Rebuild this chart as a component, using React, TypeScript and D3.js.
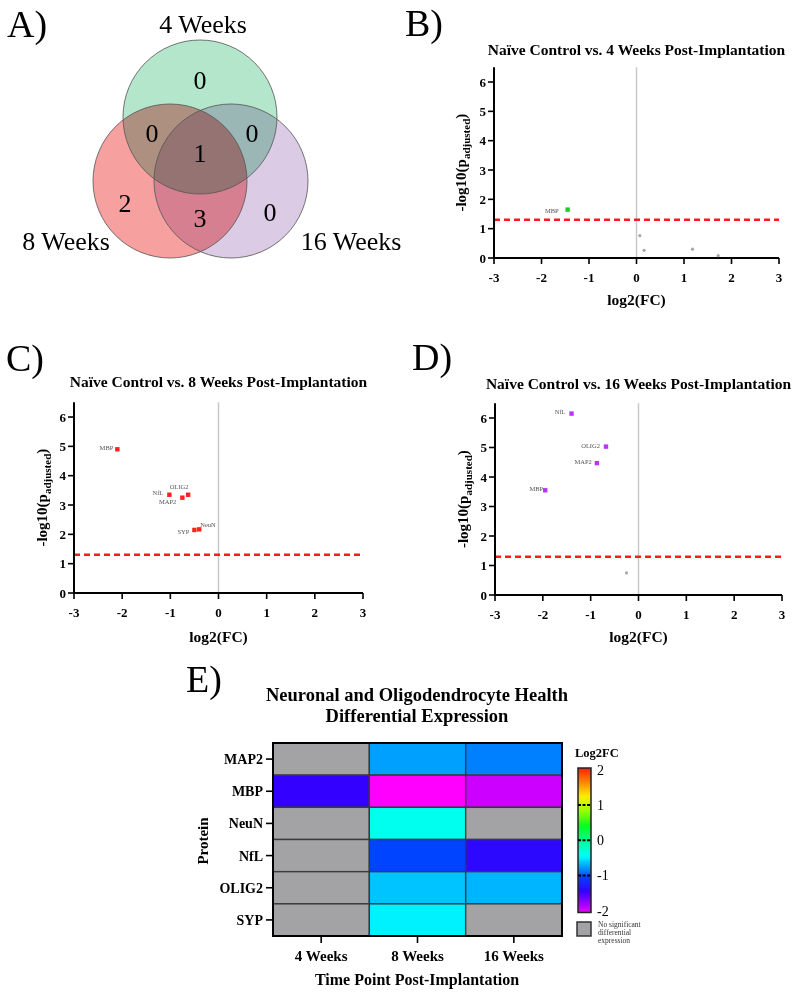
import React from "react";
import * as d3 from "d3";

// ---------------- DATA ----------------
const vennSetLabels = ["4 Weeks", "8 Weeks", "16 Weeks"];
// region counts: only4, only8, only16, 4&8, 4&16, 8&16, all
const vennRegionKeys = ["only4", "only8", "only16", "w4w8", "w4w16", "w8w16", "all"];
const vennRegionCounts = [0, 2, 0, 0, 0, 3, 1];

const fcTicks = [-3, -2, -1, 0, 1, 2, 3];
const pTicks = [0, 1, 2, 3, 4, 5, 6];
const sigThreshold = 1.3;

const wk4Names = ["MBP", "", "", "", ""];
const wk4FC = [-1.45, 0.07, 0.16, 1.18, 1.72];
const wk4P = [1.65, 0.76, 0.26, 0.3, 0.08];

const wk8Names = ["MBP", "NfL", "MAP2", "OLIG2", "SYP", "NeuN"];
const wk8FC = [-2.1, -1.02, -0.75, -0.63, -0.5, -0.4];
const wk8P = [4.9, 3.35, 3.25, 3.35, 2.15, 2.17];

const wk16Names = ["NfL", "OLIG2", "MAP2", "MBP", ""];
const wk16FC = [-1.4, -0.68, -0.87, -1.95, -0.25];
const wk16P = [6.15, 5.03, 4.47, 3.55, 0.75];

const heatProteins = ["MAP2", "MBP", "NeuN", "NfL", "OLIG2", "SYP"];
const heatTimes = ["4 Weeks", "8 Weeks", "16 Weeks"];
const heat4 = [null, -1.45, null, null, null, null];
const heat8 = [-0.75, -2.1, -0.4, -1.02, -0.63, -0.5];
const heat16 = [-0.87, -1.95, null, -1.4, -0.68, null];
const colorbarTicks = [2, 1, 0, -1, -2];
const colorStops = [-2.1, -1.95, -1.45, -1.02, -0.87, -0.75, -0.63, -0.5, -0.4, 0, 0.4, 0.8, 1.25, 1.6, 2.05];
const colorStopColors = ["#ff00ff", "#cc00ff", "#3300ff", "#0044ff", "#0080ff", "#00a0ff", "#00c4ff", "#00f2ff", "#00ffee", "#00ff90", "#00ff20", "#90ff00", "#ffee00", "#ff9000", "#ff2000"];

// ---------------- STYLE ----------------
const SERIF = "'Liberation Serif', 'Times New Roman', serif";
const colorScale = d3.scaleLinear<string>().domain(colorStops).range(colorStopColors).interpolate(d3.interpolateRgb).clamp(true);

type Pt = { name: string; fc: number; p: number };
const zip = (n: string[], f: number[], p: number[]): Pt[] => n.map((name, i) => ({ name, fc: f[i], p: p[i] }));

type LabelPos = { dx: number; dy: number; anchor: string };

function Volcano(props: {
  x0: number; x1: number; y0: number; yTop: number; title: string; titleY: number;
  letter: string; letterX: number; letterY: number; data: Pt[]; color: string;
  labelPos: Record<string, LabelPos>; yLabelX: number; xLabelY: number;
}) {
  const { x0, x1, y0, yTop, data, color } = props;
  const x = d3.scaleLinear().domain([-3, 3]).range([x0, x1]);
  const y = d3.scaleLinear().domain([0, 6.5]).range([y0, yTop]);
  const cx = x(0);
  const mid = (y(0) + y(6.5)) / 2;
  return (
    <g fontFamily={SERIF}>
      <text x={props.letterX} y={props.letterY} fontSize={38}>{props.letter}</text>
      <text x={(x0 + x1) / 2} y={props.titleY} fontSize={15.5} fontWeight="bold" textAnchor="middle">{props.title}</text>
      <line x1={cx} x2={cx} y1={y(0)} y2={y(6.5)} stroke="#c8c8c8" strokeWidth={1.5} />
      <line x1={x(-3)} x2={x(3)} y1={y(sigThreshold)} y2={y(sigThreshold)} stroke="#ff1a1a" strokeWidth={2.5} strokeDasharray="6,4" />
      {/* axes */}
      <line x1={x0} x2={x0} y1={y(0)} y2={y(6.5)} stroke="#000" strokeWidth={2} />
      <line x1={x0} x2={x1} y1={y0} y2={y0} stroke="#000" strokeWidth={2} />
      {pTicks.map((t) => (
        <g key={"py" + t}>
          <line x1={x0 - 6} x2={x0} y1={y(t)} y2={y(t)} stroke="#000" strokeWidth={1.6} />
          <text x={x0 - 8} y={y(t) + 4.5} fontSize={13} fontWeight="bold" textAnchor="end">{t}</text>
        </g>
      ))}
      {fcTicks.map((t) => (
        <g key={"fx" + t}>
          <line x1={x(t)} x2={x(t)} y1={y0} y2={y0 + 6} stroke="#000" strokeWidth={1.6} />
          <text x={x(t)} y={y0 + 24} fontSize={13} fontWeight="bold" textAnchor="middle">{t}</text>
        </g>
      ))}
      <text transform={`translate(${props.yLabelX},${mid}) rotate(-90)`} fontSize={15} fontWeight="bold" textAnchor="middle">
        -log10(p<tspan fontSize={11} dy={3.5}>adjusted</tspan><tspan dy={-3.5}>)</tspan>
      </text>
      <text x={cx} y={props.xLabelY} fontSize={15.5} fontWeight="bold" textAnchor="middle">log2(FC)</text>
      {data.map((d, i) => {
        const sig = d.p > sigThreshold;
        const px = x(d.fc), py = y(d.p);
        const lp = props.labelPos[d.name];
        return (
          <g key={i}>
            {sig ? (
              <rect x={px - 2.2} y={py - 2.2} width={4.4} height={4.4} fill={color} />
            ) : (
              <circle cx={px} cy={py} r={1.6} fill="#a8a8a8" />
            )}
            {d.name && lp ? (
              <text x={px + lp.dx} y={py + lp.dy} fontSize={6.5} fill="#555" textAnchor={lp.anchor}>{d.name}</text>
            ) : null}
          </g>
        );
      })}
    </g>
  );
}

function Venn() {
  const r = 77;
  const centers = [
    { cx: 200, cy: 117, fill: "#b3e6cb" },
    { cx: 170, cy: 181, fill: "#f7a0a0" },
    { cx: 231, cy: 181, fill: "#dccbe5" },
  ];
  const regionPos: Record<string, [number, number]> = {
    only4: [200, 80], only8: [125, 203], only16: [270, 212],
    w4w8: [152, 133], w4w16: [252, 133], w8w16: [200, 218], all: [200, 153],
  };
  const labelPos: [number, number][] = [[203, 33], [66, 250], [351, 250]];
  return (
    <g fontFamily={SERIF}>
      <text x={7} y={37} fontSize={38}>A)</text>
      <g style={{ isolation: "isolate" }}>
        {centers.map((c, i) => (
          <circle key={i} cx={c.cx} cy={c.cy} r={r} fill={c.fill} style={{ mixBlendMode: "multiply" }} />
        ))}
      </g>
      {centers.map((c, i) => (
        <circle key={"s" + i} cx={c.cx} cy={c.cy} r={r} fill="none" stroke="#555" strokeOpacity={0.8} strokeWidth={1} />
      ))}
      {vennRegionKeys.map((k, i) => (
        <text key={k} x={regionPos[k][0]} y={regionPos[k][1] + 8.5} fontSize={26} textAnchor="middle">{vennRegionCounts[i]}</text>
      ))}
      {vennSetLabels.map((s, i) => (
        <text key={s} x={labelPos[i][0]} y={labelPos[i][1]} fontSize={26} textAnchor="middle">{s}</text>
      ))}
    </g>
  );
}

function Heatmap() {
  const x = d3.scaleBand().domain(heatTimes).range([273, 562]);
  const y = d3.scaleBand().domain(heatProteins).range([743, 936]);
  const cols = [heat4, heat8, heat16];
  const cb = d3.scaleLinear().domain([-2.05, 2.05]).range([912.5, 768]);
  const gradStops = d3.range(0, 41).map((i) => {
    const v = -2.05 + (4.1 * i) / 40;
    return { off: (i / 40) * 100, c: colorScale(v) };
  });
  return (
    <g fontFamily={SERIF}>
      <defs>
        <linearGradient id="cbgrad" x1="0" y1="1" x2="0" y2="0">
          {gradStops.map((s, i) => (
            <stop key={i} offset={`${s.off}%`} stopColor={s.c} />
          ))}
        </linearGradient>
      </defs>
      <text x={186} y={692} fontSize={38}>E)</text>
      <text x={417} y={701} fontSize={18.5} fontWeight="bold" textAnchor="middle">Neuronal and Oligodendrocyte Health</text>
      <text x={417} y={722} fontSize={18.5} fontWeight="bold" textAnchor="middle">Differential Expression</text>
      {heatTimes.map((t, ci) =>
        heatProteins.map((p, ri) => {
          const v = cols[ci][ri];
          return (
            <rect key={t + p} x={x(t)!} y={y(p)!} width={x.bandwidth()} height={y.bandwidth()}
              fill={v == null ? "#a3a3a6" : colorScale(v)} stroke="#3a3a3a" strokeWidth={1.4} />
          );
        })
      )}
      <rect x={273} y={743} width={289} height={193} fill="none" stroke="#000" strokeWidth={2} />
      {heatProteins.map((p) => (
        <g key={p}>
          <line x1={266} x2={273} y1={y(p)! + y.bandwidth() / 2} y2={y(p)! + y.bandwidth() / 2} stroke="#000" strokeWidth={1.6} />
          <text x={263} y={y(p)! + y.bandwidth() / 2 + 5} fontSize={14} fontWeight="bold" textAnchor="end">{p}</text>
        </g>
      ))}
      {heatTimes.map((t) => (
        <g key={t}>
          <line x1={x(t)! + x.bandwidth() / 2} x2={x(t)! + x.bandwidth() / 2} y1={936} y2={943} stroke="#000" strokeWidth={1.6} />
          <text x={x(t)! + x.bandwidth() / 2} y={961} fontSize={15} fontWeight="bold" textAnchor="middle">{t}</text>
        </g>
      ))}
      <text x={417} y={985} fontSize={16} fontWeight="bold" textAnchor="middle">Time Point Post-Implantation</text>
      <text transform="translate(208,841) rotate(-90)" fontSize={15} fontWeight="bold" textAnchor="middle">Protein</text>
      {/* colorbar */}
      <text x={575} y={757} fontSize={12.5} fontWeight="bold">Log2FC</text>
      <rect x={578} y={cb(2.05)} width={13} height={cb(-2.05) - cb(2.05)} fill="url(#cbgrad)" stroke="#222" strokeWidth={1.5} />
      {colorbarTicks.map((t) => (
        <g key={"cb" + t}>
          {t !== 2 && t !== -2 ? (
            <line x1={578} x2={591} y1={cb(t)} y2={cb(t)} stroke="#000" strokeWidth={1.8} strokeDasharray="3,1.5" />
          ) : null}
          <text x={597} y={cb(t) + 5} fontSize={14}>{t}</text>
        </g>
      ))}
      <rect x={577} y={922} width={14} height={14} fill="#a3a3a6" stroke="#333" strokeWidth={1.5} />
      <text x={598} y={927} fontSize={7.5} fill="#333">No significant</text>
      <text x={598} y={935} fontSize={7.5} fill="#333">differential</text>
      <text x={598} y={943} fontSize={7.5} fill="#333">expression</text>
    </g>
  );
}

const posB: Record<string, LabelPos> = { MBP: { dx: -9, dy: 3, anchor: "end" } };
const posC: Record<string, LabelPos> = {
  MBP: { dx: -4, dy: 1, anchor: "end" },
  NfL: { dx: -6, dy: 0, anchor: "end" },
  OLIG2: { dx: -9, dy: -6, anchor: "middle" },
  MAP2: { dx: -6, dy: 6, anchor: "end" },
  SYP: { dx: -5, dy: 4, anchor: "end" },
  NeuN: { dx: 1, dy: -2, anchor: "start" },
};
const posD: Record<string, LabelPos> = {
  NfL: { dx: -6, dy: 0.5, anchor: "end" },
  OLIG2: { dx: -6, dy: 1.5, anchor: "end" },
  MAP2: { dx: -5, dy: 1, anchor: "end" },
  MBP: { dx: -2, dy: 1, anchor: "end" },
};

export default function App() {
  return (
    <svg width={800} height={993} style={{ position: "absolute", left: 0, top: 0, background: "#fff" }}>
      <rect width={800} height={993} fill="#fff" />
      <Venn />
      <Volcano x0={494} x1={779} y0={258} yTop={258 - 6.5 * 29.33} title="Naïve Control vs. 4 Weeks Post-Implantation"
        titleY={55} letter="B)" letterX={405} letterY={36} data={zip(wk4Names, wk4FC, wk4P)} color="#22cc22"
        labelPos={posB} yLabelX={466} xLabelY={305} />
      <Volcano x0={74} x1={363} y0={593} yTop={593 - 6.5 * 29.33} title="Naïve Control vs. 8 Weeks Post-Implantation"
        titleY={387} letter="C)" letterX={6} letterY={371} data={zip(wk8Names, wk8FC, wk8P)} color="#ff2020"
        labelPos={posC} yLabelX={47} xLabelY={642} />
      <Volcano x0={495} x1={782} y0={595} yTop={595 - 6.5 * 29.5} title="Naïve Control vs. 16 Weeks Post-Implantation"
        titleY={389} letter="D)" letterX={412} letterY={370} data={zip(wk16Names, wk16FC, wk16P)} color="#bb33ff"
        labelPos={posD} yLabelX={468} xLabelY={642} />
      <Heatmap />
    </svg>
  );
}
